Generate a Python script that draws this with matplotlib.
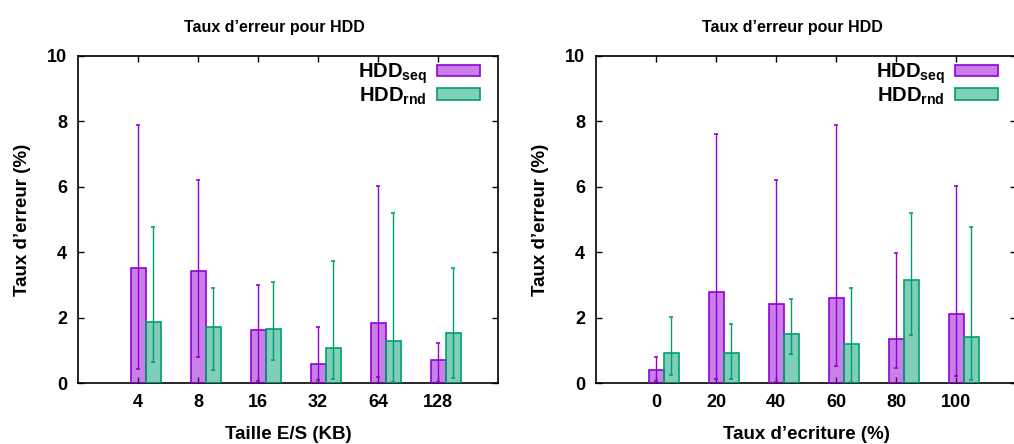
import numpy as np
import matplotlib
matplotlib.use("Agg")
import matplotlib.pyplot as plt

plt.rcParams['font.family'] = ['Liberation Sans', 'DejaVu Sans']
plt.rcParams['font.weight'] = 'bold'

# left chart: I/O size
sizes = ["4", "8", "16", "32", "64", "128"]
size_seq = [3.53, 3.41, 1.63, 0.59, 1.82, 0.70]
size_seq_lo = [0.44, 0.81, 0.05, 0.08, 0.17, 0.03]
size_seq_hi = [7.88, 6.21, 2.99, 1.71, 6.02, 1.22]
size_rnd = [1.88, 1.70, 1.65, 1.07, 1.28, 1.53]
size_rnd_lo = [0.64, 0.39, 0.71, 0.12, 0.03, 0.15]
size_rnd_hi = [4.78, 2.92, 3.08, 3.74, 5.21, 3.51]

# right chart: write ratio
writes = ["0", "20", "40", "60", "80", "100"]
write_seq = [0.40, 2.78, 2.42, 2.61, 1.36, 2.11]
write_seq_lo = [0.05, 0.12, 0.03, 0.51, 0.45, 0.22]
write_seq_hi = [0.81, 7.60, 6.21, 7.88, 3.99, 6.02]
write_rnd = [0.92, 0.92, 1.50, 1.19, 3.16, 1.40]
write_rnd_lo = [0.25, 0.12, 0.90, 0.03, 1.48, 0.09]
write_rnd_hi = [2.01, 1.80, 2.58, 2.92, 5.21, 4.78]

purple = "#9400d3"
green = "#009e73"

fig = plt.figure(figsize=(10.14, 4.44), dpi=100)
ax1 = fig.add_axes([78/1014, 61/444, 420/1014, 327/444])
ax2 = fig.add_axes([596/1014, 61/444, 420/1014, 327/444])


def draw(ax, cats, seq, seq_lo, seq_hi, rnd, rnd_lo, rnd_hi, xlabel):
    x = np.arange(1, len(cats) + 1)
    w = 0.25
    seq = np.array(seq); rnd = np.array(rnd)
    ax.bar(x, seq, w, color=purple, alpha=0.5, lw=0, zorder=2)
    ax.bar(x, seq, w, facecolor="none", edgecolor=purple, lw=1.2, zorder=3,
           label=r"HDD$_{\mathregular{seq}}$")
    ax.bar(x + w, rnd, w, color=green, alpha=0.5, lw=0, zorder=2)
    ax.bar(x + w, rnd, w, facecolor="none", edgecolor=green, lw=1.2, zorder=3,
           label=r"HDD$_{\mathregular{rnd}}$")
    ax.errorbar(x, seq, yerr=[seq - np.array(seq_lo), np.array(seq_hi) - seq],
                fmt="none", ecolor=purple, elinewidth=1, capsize=1.6, capthick=1.2, zorder=4)
    ax.errorbar(x + w, rnd, yerr=[rnd - np.array(rnd_lo), np.array(rnd_hi) - rnd],
                fmt="none", ecolor=green, elinewidth=1, capsize=1.6, capthick=1.2, zorder=4)

    ax.set_xlim(0, 7)
    ax.set_ylim(0, 10)
    ax.set_xticks(x)
    ax.set_xticklabels(cats)
    ax.set_yticks([0, 2, 4, 6, 8, 10])
    ax.tick_params(direction="in", length=4, width=1, top=True, right=True,
                   labelsize=13, pad=8)
    for s in ax.spines.values():
        s.set_linewidth(1.2)
    ax.set_title("Taux d\u2019erreur pour HDD", fontsize=11.5, fontweight="bold",
                 x=0.467, pad=17)
    ax.set_xlabel(xlabel, fontsize=13.5, fontweight="bold", labelpad=11)
    ax.set_ylabel("Taux d\u2019erreur (%)", fontsize=13.5, fontweight="bold", labelpad=11)
    handles, labels = ax.get_legend_handles_labels()
    leg = ax.legend(handles, labels, loc="upper right", bbox_to_anchor=(0.962, 0.99),
                    frameon=False, markerfirst=False,
                    fontsize=14.5, handlelength=2.15, handleheight=0.5,
                    labelspacing=-0.02, borderaxespad=0, borderpad=0.1,
                    handletextpad=0.5)
    # sample patches: light fill with dark edge
    leg.legend_handles[0].set_facecolor("#c97fe9")
    leg.legend_handles[1].set_facecolor("#7fcfb9")


draw(ax1, sizes, size_seq, size_seq_lo, size_seq_hi, size_rnd, size_rnd_lo, size_rnd_hi,
     "Taille E/S (KB)")
draw(ax2, writes, write_seq, write_seq_lo, write_seq_hi, write_rnd, write_rnd_lo, write_rnd_hi,
     "Taux d\u2019ecriture (%)")

fig.savefig("out.png", dpi=100)
